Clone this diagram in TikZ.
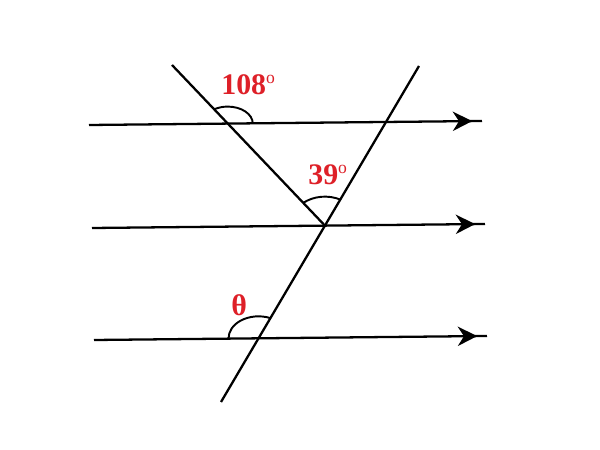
\documentclass[tikz,border=0pt]{standalone}
\usepackage{fontspec}
\setmainfont{Liberation Serif}
\usetikzlibrary{arrows.meta,decorations.markings,intersections,calc}
\definecolor{angle-red}{RGB}{222, 32, 40}
\tikzstyle{line}=[draw,line width=1.3pt]
\tikzstyle{parallel}=[line,postaction={decorate},decoration={markings,mark=at position 0.975 with {\arrow{Stealth[length=11pt,width=11pt,inset=3.5pt]}}}]
\tikzstyle{anglearc}=[draw,line width=1.1pt]
\tikzstyle{anglelabel}=[anchor=base west,inner sep=0pt,text=angle-red,font=\bfseries\fontsize{17}{17}\selectfont]
\newcommand{\dg}{\textsuperscript{\mdseries\fontsize{10}{10}\selectfont o}}

\begin{document}
\begin{tikzpicture}[x=0.02cm,y=0.02cm]
  \useasboundingbox[fill=white] (0,0) rectangle (600,450);

  % three parallel lines
  \coordinate (l1s) at (89,325);  \coordinate (l1e) at (482,329);
  \coordinate (l2s) at (92,222);  \coordinate (l2e) at (485,226);
  \coordinate (l3s) at (94,110);  \coordinate (l3e) at (487,114);
  \draw[parallel,name path=l1] (l1s) -- (l1e);
  \draw[parallel,name path=l2] (l2s) -- (l2e);
  \draw[parallel,name path=l3] (l3s) -- (l3e);

  % transversals
  \coordinate (as) at (172,385);
  \coordinate (bs) at (419,384);  \coordinate (be) at (221,48);
  \path[name path=b] (bs) -- (be);
  \path[name intersections={of=b and l2,by=m}];
  \draw[line,name path=a] (as) -- (m);
  \draw[line] (bs) -- (be);

  \path[name intersections={of=a and l1,by=p}];
  \path[name intersections={of=b and l3,by=q}];

  % angles (flattened arcs)
  \draw[anglearc] ($(p)+(0.6:0.5cm and 0.34cm)$) arc[start angle=0.6,end angle=123,x radius=0.5cm,y radius=0.34cm];
  \draw[anglearc] ($(m)+(64:0.7cm and 0.58cm)$) arc[start angle=64,end angle=128.6,x radius=0.7cm,y radius=0.58cm];
  \draw[anglearc] ($(q)+(66.6:0.6cm and 0.44cm)$) arc[start angle=66.6,end angle=180.5,x radius=0.6cm,y radius=0.44cm];

  \node[anglelabel] at (221,355) (a108) {108\dg};
  \node[anglelabel] at (308,265) (a39) {39\dg};
  \node[anglelabel] at (231,134) (theta) {θ};
\end{tikzpicture}
\end{document}
